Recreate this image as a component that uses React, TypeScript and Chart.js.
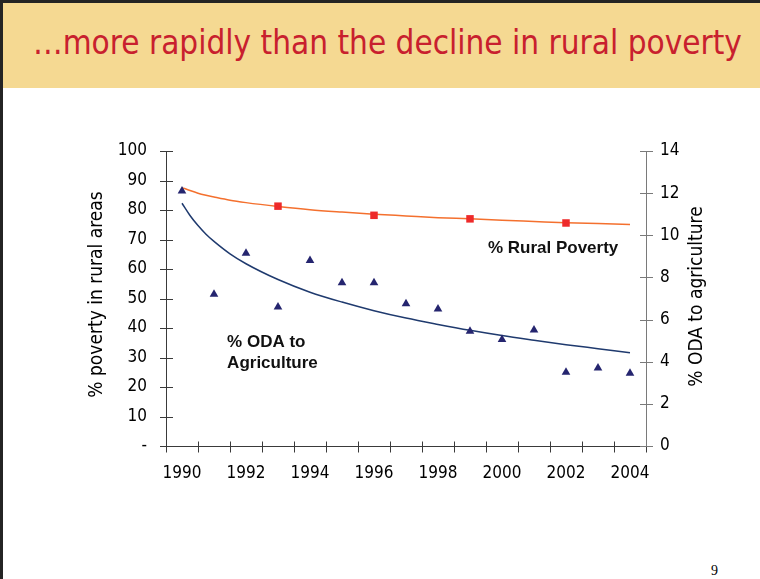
import React, { useEffect, useRef } from 'react';
import { Chart, registerables } from 'chart.js';

Chart.register(...registerables);

// ---- data ----
const years = [1990, 1991, 1992, 1993, 1994, 1995, 1996, 1997, 1998, 1999, 2000, 2001, 2002, 2003, 2004];
const labelYears = [1990, 1992, 1994, 1996, 1998, 2000, 2002, 2004];
// % ODA to agriculture (right axis), triangles
const odaValues = [12.1, 7.2, 9.15, 6.6, 8.8, 7.75, 7.75, 6.75, 6.5, 5.45, 5.05, 5.5, 3.5, 3.7, 3.45];
// trend line through ODA values (right axis), sampled along the drawn curve
const odaTrendYears = [1990, 1990.25, 1990.5, 1990.75, 1991, 1991.5, 1992, 1993, 1994, 1995, 1996, 1997, 1998, 1999, 2000, 2001, 2002, 2003, 2004];
const odaTrend = [11.52, 10.94, 10.46, 10.05, 9.71, 9.12, 8.65, 7.9, 7.3, 6.83, 6.42, 6.07, 5.77, 5.49, 5.24, 5.02, 4.81, 4.62, 4.43];
// % rural poverty trend line (left axis)
const povertyTrendYears = [1990, 1990.25, 1990.5, 1990.75, 1991, 1991.5, 1992, 1993, 1994, 1995, 1996, 1997, 1998, 1999, 2000, 2001, 2002, 2003, 2004];
const povertyTrend = [87.6, 86.6, 85.7, 85.0, 84.4, 83.3, 82.5, 81.2, 80.1, 79.3, 78.6, 78.0, 77.4, 77.0, 76.5, 76.1, 75.7, 75.4, 75.1];
// % rural poverty observations (left axis), squares
const povertyYears = [1993, 1996, 1999, 2002];
const povertyPoints = [81.3, 78.2, 77.0, 75.6];
const leftTicks = [0, 10, 20, 30, 40, 50, 60, 70, 80, 90, 100];
const rightTicks = [0, 2, 4, 6, 8, 10, 12, 14];

const TICK_FONT = "'DejaVu Sans Condensed', 'DejaVu Sans', sans-serif";

const pts = (xs: number[], ys: number[]) => xs.map((x, i) => ({ x, y: ys[i] }));

export default function App() {
  const ref = useRef<HTMLCanvasElement>(null);

  useEffect(() => {
    const canvas = ref.current;
    if (!canvas) return;

    const axesPlugin = {
      id: 'axesPlugin',
      beforeDatasetsDraw(chart: any) {
        const { ctx, chartArea } = chart;
        const xS = chart.scales.x;
        const yL = chart.scales.y;
        const yR = chart.scales.y1;
        const { left, right, top, bottom } = chartArea;
        ctx.save();
        ctx.lineWidth = 1;
        // left axis
        ctx.strokeStyle = '#3a3a3a';
        ctx.beginPath();
        ctx.moveTo(left + 0.5, top);
        ctx.lineTo(left + 0.5, bottom);
        leftTicks.forEach((v) => {
          const py = Math.round(yL.getPixelForValue(v)) + 0.5;
          ctx.moveTo(left - 6, py);
          ctx.lineTo(left + 7, py);
        });
        ctx.stroke();
        // x axis with tick marks on year boundaries
        ctx.beginPath();
        const by = Math.round(bottom) + 0.5;
        ctx.moveTo(left, by);
        ctx.lineTo(right, by);
        for (let i = 0; i <= years.length; i++) {
          const px = Math.round(xS.getPixelForValue(years[0] - 0.5 + i)) + 0.5;
          ctx.moveTo(px, by - 5);
          ctx.lineTo(px, by + 6);
        }
        ctx.stroke();
        // right axis
        ctx.strokeStyle = '#7a7a7a';
        ctx.beginPath();
        ctx.moveTo(right + 0.5, top);
        ctx.lineTo(right + 0.5, bottom);
        rightTicks.forEach((v) => {
          const py = Math.round(yR.getPixelForValue(v)) + 0.5;
          ctx.moveTo(right - 6, py);
          ctx.lineTo(right + 7, py);
        });
        ctx.stroke();

        // axis titles (both read bottom-to-top)
        ctx.fillStyle = '#000';
        ctx.font = `19px ${TICK_FONT}`;
        ctx.textAlign = 'center';
        ctx.textBaseline = 'middle';
        const midY = (top + bottom) / 2;
        ctx.save();
        ctx.translate(left - 69, midY - 4);
        ctx.rotate(-Math.PI / 2);
        ctx.fillText('% poverty in rural areas', 0, 0);
        ctx.restore();
        ctx.save();
        ctx.translate(right + 51, midY - 2);
        ctx.rotate(-Math.PI / 2);
        ctx.fillText('% ODA to agriculture', 0, 0);
        ctx.restore();
        ctx.restore();
      },
      afterDatasetsDraw(chart: any) {
        const { ctx } = chart;
        const x = chart.scales.x;
        const yL = chart.scales.y;
        ctx.save();
        ctx.fillStyle = '#111';
        ctx.font = "bold 17px 'Liberation Sans', Arial, sans-serif";
        ctx.textAlign = 'left';
        ctx.textBaseline = 'middle';
        ctx.fillText('% Rural Poverty', x.getPixelForValue(1999.56), yL.getPixelForValue(67.1));
        ctx.fillText('% ODA to', x.getPixelForValue(1991.41), yL.getPixelForValue(35.3));
        ctx.fillText('Agriculture', x.getPixelForValue(1991.41), yL.getPixelForValue(28.1));
        ctx.restore();
      },
    };

    const chart = new Chart(canvas, {
      type: 'line',
      data: {
        datasets: [
          {
            label: '% ODA to agriculture',
            data: pts(years, odaValues),
            yAxisID: 'y1',
            showLine: false,
            pointStyle: 'triangle',
            pointRadius: 5,
            pointBackgroundColor: '#25256f',
            pointBorderColor: '#25256f',
            pointBorderWidth: 0,
          },
          {
            label: '% Rural Poverty',
            data: pts(povertyYears, povertyPoints),
            yAxisID: 'y',
            showLine: false,
            pointStyle: 'rect',
            pointRadius: 5.3,
            pointBackgroundColor: '#ee2a2a',
            pointBorderColor: '#ee2a2a',
            pointBorderWidth: 0,
          },
          {
            label: 'ODA trend',
            data: pts(odaTrendYears, odaTrend),
            yAxisID: 'y1',
            borderColor: '#1f3a6e',
            borderWidth: 1.5,
            pointRadius: 0,
            cubicInterpolationMode: 'monotone',
            fill: false,
          },
          {
            label: 'Poverty trend',
            data: pts(povertyTrendYears, povertyTrend),
            yAxisID: 'y',
            borderColor: '#f4702e',
            borderWidth: 1.5,
            pointRadius: 0,
            cubicInterpolationMode: 'monotone',
            fill: false,
          },
        ],
      },
      plugins: [axesPlugin],
      options: {
        animation: false,
        responsive: true,
        maintainAspectRatio: false,
        layout: { padding: { top: 51, left: 0, right: 0, bottom: 0 } },
        plugins: { legend: { display: false }, tooltip: { enabled: false } },
        scales: {
          x: {
            type: 'linear',
            min: years[0] - 0.5,
            max: years[years.length - 1] + 0.5,
            grid: { display: false, drawTicks: false },
            border: { display: false },
            afterBuildTicks: (s: any) => {
              s.ticks = labelYears.map((v) => ({ value: v }));
            },
            ticks: {
              autoSkip: false,
              maxRotation: 0,
              padding: 17,
              color: '#000',
              font: { family: TICK_FONT, size: 17 },
              callback: (v: any) => String(v),
            },
            afterFit: (s: any) => {
              s.height = 74;
            },
          },
          y: {
            position: 'left',
            min: 0,
            max: 100,
            grid: { display: false, drawTicks: false },
            border: { display: false },
            ticks: {
              stepSize: 10,
              padding: 19,
              color: '#000',
              font: { family: TICK_FONT, size: 17 },
              callback: (v: any) => (v === 0 ? '-' : String(v)),
            },
            afterFit: (s: any) => {
              s.width = 166;
            },
          },
          y1: {
            position: 'right',
            min: 0,
            max: 14,
            grid: { display: false, drawTicks: false },
            border: { display: false },
            ticks: {
              stepSize: 2,
              padding: 14,
              color: '#000',
              font: { family: TICK_FONT, size: 17 },
            },
            afterFit: (s: any) => {
              s.width = 114;
            },
          },
        },
      },
    } as any);

    return () => chart.destroy();
  }, []);

  return (
    <div style={{ position: 'absolute', left: 0, top: 0, width: 760, height: 579, background: '#fff', overflow: 'hidden' }}>
      <div style={{ position: 'absolute', left: 0, top: 0, width: 760, height: 3, background: '#242424' }} />
      <div style={{ position: 'absolute', left: 0, top: 0, width: 3, height: 579, background: '#242424' }} />
      <div style={{ position: 'absolute', left: 3, top: 3, width: 757, height: 85, background: '#F5D992' }} />
      <div
        style={{
          position: 'absolute',
          left: 33,
          top: 23,
          whiteSpace: 'nowrap',
          color: '#C8202E',
          fontFamily: TICK_FONT,
          fontSize: 33,
          lineHeight: '40px',
        }}
      >
        …more rapidly than the decline in rural poverty
      </div>
      <div style={{ position: 'absolute', left: 0, top: 100, width: 760, height: 420 }}>
        <canvas ref={ref} />
      </div>
      <div
        style={{
          position: 'absolute',
          left: 711,
          top: 563,
          fontFamily: "'Liberation Serif', 'DejaVu Serif', serif",
          fontSize: 14,
          color: '#000',
        }}
      >
        9
      </div>
    </div>
  );
}
